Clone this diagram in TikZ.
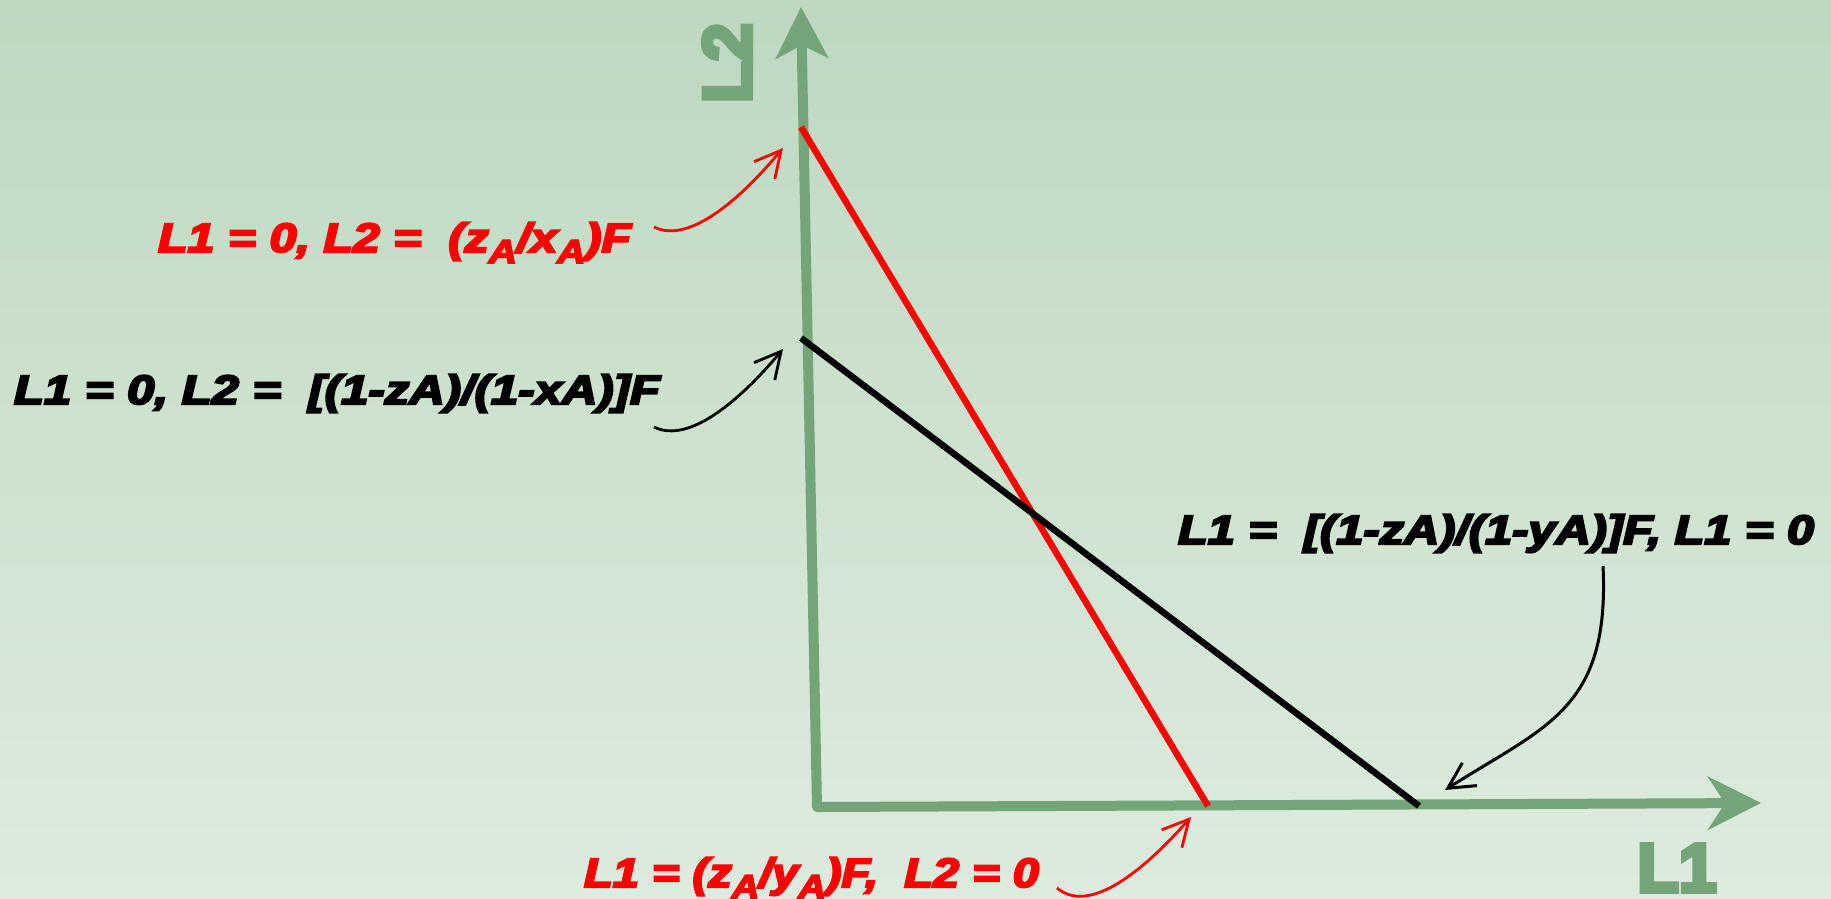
\documentclass[tikz,border=0pt]{standalone}
\usepackage{graphicx}
\usepackage{fontspec}
\setmainfont{Liberation Sans}
\newfontfamily\lblfont{Liberation Sans}[FakeBold=5]
\newfontfamily\axfont{Liberation Sans}[FakeBold=7]
\usetikzlibrary{arrows.meta}
\definecolor{axgreen}{RGB}{115,165,120}
\definecolor{bgtop}{RGB}{190,216,192}
\definecolor{bgbot}{RGB}{221,235,222}
\newcommand\lowsub[1]{\raisebox{-11pt}{\fontsize{33}{36}\selectfont #1}}
\newcommand\fitlbl[2]{\resizebox{#1}{\height}{\lblfont\bfseries\itshape\fontsize{41}{46}\selectfont #2}}
\begin{document}
\begin{tikzpicture}[x=1pt,y=-1pt,
  lbl/.style={anchor=base west, inner sep=0pt, outer sep=0pt},
  axlbl/.style={inner sep=0pt, outer sep=0pt, text=axgreen, font=\axfont\bfseries\fontsize{68}{72}\selectfont},
  axis/.style={draw=axgreen, line width=10pt, line join=round},
  ptr/.style={line width=2.8pt, -{Straight Barb[length=26pt,width=27pt]}},
  graph/.style={line width=6.5pt}]
\useasboundingbox (0,0) rectangle (1831,898);
\shade[top color=bgtop,bottom color=bgbot] (0,0) rectangle (1831,898);

% axes
\coordinate (O) at (817,807);
\coordinate (Ytip) at (801,7);
\coordinate (Xtip) at (1761,803);
\draw[axis, {Stealth[length=51pt,width=52pt,inset=13pt]}-{Stealth[length=53pt,width=53pt,inset=17pt]}] (Ytip) -- (O) -- (Xtip);
\node[axlbl, rotate=90] (L2lbl) at (727,63) {L2};
\node[axlbl] (L1lbl) at (1677,868) {L1};

% graph lines
\coordinate (rt) at (801,127);
\coordinate (rb) at (1208,806);
\coordinate (bt) at (801,338);
\coordinate (bb) at (1419,806);
\draw[graph, red] (rt) -- (rb);
\draw[graph, black] (bt) -- (bb);

% labels
\node[lbl, text=red] (lblA) at (158,252) {\fitlbl{473pt}{L1 = 0, L2 = \ (z\lowsub{A}/x\lowsub{A})F}};
\node[lbl] (lblB) at (14,404) {\fitlbl{646pt}{L1 = 0, L2 = \ [(1-zA)/(1-xA)]F}};
\node[lbl, text=red] (lblC) at (584,887) {\fitlbl{455pt}{L1 = (z\lowsub{A}/y\lowsub{A})F, \ L2 = 0}};
\node[lbl] (lblD) at (1178,544) {\fitlbl{636pt}{L1 = \ [(1-zA)/(1-yA)]F, L1 = 0}};

% pointers
\coordinate (pA0) at (654,227);
\coordinate (pA1) at (783,148);
\draw[ptr, red] (pA0) .. controls (690,245) and (743,196) .. (pA1);
\coordinate (pB0) at (654,427);
\coordinate (pB1) at (783,349);
\draw[ptr, black] (pB0) .. controls (690,445) and (743,397) .. (pB1);
\coordinate (pC0) at (1057,888);
\coordinate (pC1) at (1191,817);
\draw[ptr, red] (pC0) .. controls (1095,920) and (1161,851) .. (pC1);
\coordinate (pD0) at (1603,566);
\coordinate (pD1) at (1445,790);
\draw[ptr, black, line width=3pt] (pD0) .. controls (1610,710) and (1545,726) .. (pD1);
\end{tikzpicture}
\end{document}
